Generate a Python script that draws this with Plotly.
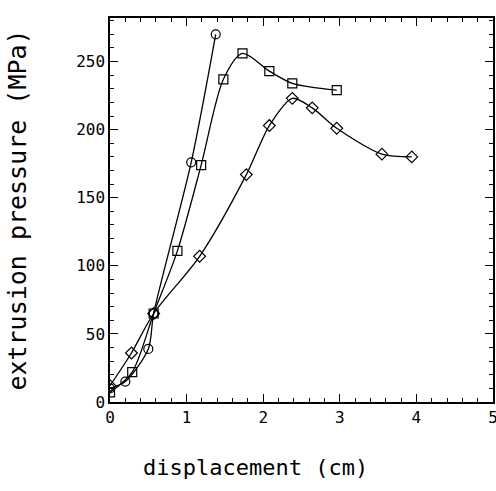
import plotly.graph_objects as go

# circles
circ_x = [0.0, 0.2, 0.5, 0.57, 1.06, 1.38]
circ_y = [10, 15, 39, 65, 176, 270]

# squares
sq_x = [0.0, 0.29, 0.57, 0.88, 1.19, 1.48, 1.73, 2.08, 2.38, 2.96]
sq_y = [7, 22, 65, 111, 174, 237, 256, 243, 234, 229]

# diamonds
dm_x = [0.0, 0.28, 0.57, 1.17, 1.78, 2.08, 2.38, 2.64, 2.96, 3.55, 3.94]
dm_y = [12, 36, 65, 107, 167, 203, 223, 216, 201, 182, 180]

series = [
    (circ_x, circ_y, "circle-open"),
    (sq_x, sq_y, "square-open"),
    (dm_x, dm_y, "diamond-open"),
]

fig = go.Figure()
for xs, ys, sym in series:
    fig.add_trace(go.Scatter(
        x=xs, y=ys, mode="lines+markers",
        line=dict(color="black", width=1.3, shape="spline", smoothing=0.8),
        marker=dict(symbol=sym, size=9, color="black", line=dict(width=1.2)),
        showlegend=False,
    ))

font = "DejaVu Sans Mono"
axis_common = dict(
    showline=True, linecolor="black", linewidth=1.5, mirror="allticks",
    ticks="inside", ticklen=8, tickwidth=1.2, tickcolor="black",
    showgrid=False, zeroline=False, automargin=False,
    tickfont=dict(family=font, size=16, color="black"),
)

fig.update_xaxes(
    range=[0, 5], dtick=1, tick0=0, ticklabeloverflow="allow",
    minor=dict(ticks="inside", ticklen=4, dtick=0.2, tickcolor="black"),
    **axis_common,
)
fig.update_yaxes(
    range=[0, 282], dtick=50, tick0=0,
    minor=dict(ticks="inside", ticklen=4, dtick=10, tickcolor="black"),
    title=dict(text="extrusion pressure (MPa)", font=dict(family=font, size=25, color="black"), standoff=42),
    **axis_common,
)

# x title sits left of centre in the original
fig.add_annotation(
    text="displacement (cm)", xref="paper", yref="paper",
    x=0.38, y=-0.17, xanchor="center", yanchor="middle", showarrow=False,
    font=dict(family=font, size=22, color="black"),
)

fig.update_layout(
    width=496, height=491,
    margin=dict(l=110, r=3, t=18, b=89),
    plot_bgcolor="white", paper_bgcolor="white",
)

# drop the page margin so the figure fills the window without scrollbars
fig.write_html(
    "out.html",
    config={"displayModeBar": False},
    post_script="document.body.style.margin='0';document.body.style.overflow='hidden';",
)
